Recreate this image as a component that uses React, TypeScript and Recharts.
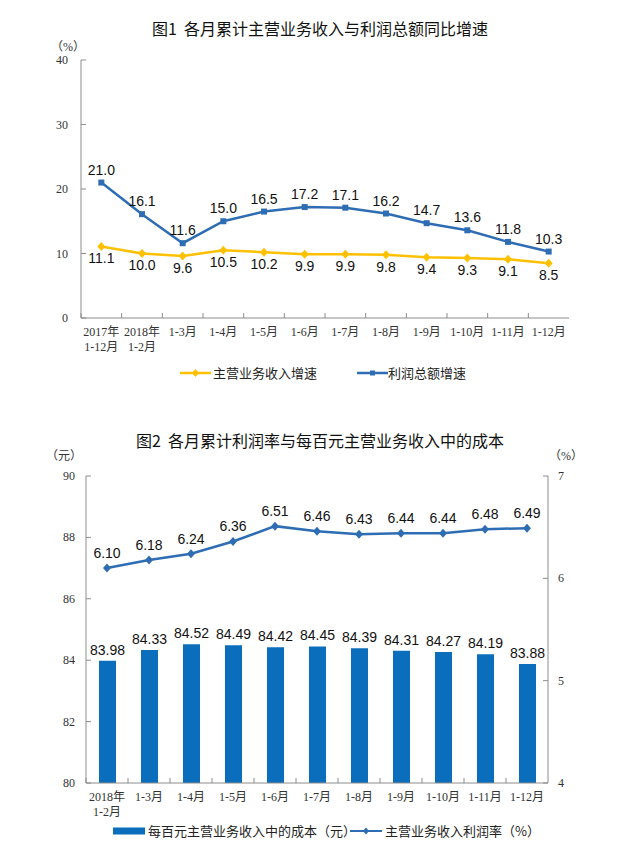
import { ComposedChart, Line, Bar, XAxis, YAxis, LabelList } from 'recharts';

// 图1 data
const months1 = ['2017年\n1-12月', '2018年\n1-2月', '1-3月', '1-4月', '1-5月', '1-6月', '1-7月', '1-8月', '1-9月', '1-10月', '1-11月', '1-12月'];
const revenueGrowth = [11.1, 10.0, 9.6, 10.5, 10.2, 9.9, 9.9, 9.8, 9.4, 9.3, 9.1, 8.5];
const profitGrowth = [21.0, 16.1, 11.6, 15.0, 16.5, 17.2, 17.1, 16.2, 14.7, 13.6, 11.8, 10.3];
const growthTicks = [0, 10, 20, 30, 40];

// 图2 data
const months2 = ['2018年\n1-2月', '1-3月', '1-4月', '1-5月', '1-6月', '1-7月', '1-8月', '1-9月', '1-10月', '1-11月', '1-12月'];
const costPer100 = [83.98, 84.33, 84.52, 84.49, 84.42, 84.45, 84.39, 84.31, 84.27, 84.19, 83.88];
const profitRate = [6.10, 6.18, 6.24, 6.36, 6.51, 6.46, 6.43, 6.44, 6.44, 6.48, 6.49];
const costTicks = [80, 82, 84, 86, 88, 90];
const rateTicks = [4, 5, 6, 7];

const data1 = months1.map((m, i) => ({ month: m, revenue: revenueGrowth[i], profit: profitGrowth[i] }));
const data2 = months2.map((m, i) => ({ month: m, cost: costPer100[i], rate: profitRate[i] }));

const BLUE = '#2E6DB4';
const GOLD = '#FFC000';
const BAR = '#0A6EBD';
const BORDER = '#8c8c8c';
const TICK_FONT = '"Liberation Serif", "Noto Sans CJK SC", serif';
const LABEL_FONT = '"Liberation Sans", Arial, sans-serif';
const CJK_FONT = '"Noto Sans CJK SC", sans-serif';

const XTick = (props: any) => {
  const { x, y, payload, band } = props;
  const lines = String(payload.value).split('\n');
  return (
    <g>
      <line x1={x - band / 2} x2={x - band / 2} y1={y} y2={y - 5} stroke={BORDER} />
      <text x={x} y={y} textAnchor="middle" fontSize={12} fill="#333" fontFamily={TICK_FONT}>
        {lines.map((l, i) => (
          <tspan key={i} x={x} dy={i === 0 ? 18 : 15}>{l}</tspan>
        ))}
      </text>
    </g>
  );
};

const YTick = (props: any) => {
  const { x, y, payload, side, gap } = props;
  const ax = side === 'left' ? x + gap : x - gap;
  const inner = side === 'left' ? ax + 5 : ax - 5;
  return (
    <g>
      <line x1={ax} x2={inner} y1={y} y2={y} stroke={BORDER} />
      <text x={x} y={y} dy={4} textAnchor={side === 'left' ? 'end' : 'start'} fontSize={12} fill="#333" fontFamily={TICK_FONT}>
        {payload.value}
      </text>
    </g>
  );
};

const SquareDot = (props: any) => {
  const { cx, cy, stroke } = props;
  if (cx == null || cy == null) return null;
  return <rect x={cx - 3} y={cy - 3} width={6} height={6} fill={stroke} />;
};

const DiamondDot = (props: any) => {
  const { cx, cy, stroke } = props;
  if (cx == null || cy == null) return null;
  return <path d={`M${cx},${cy - 4.5} L${cx + 4},${cy} L${cx},${cy + 4.5} L${cx - 4},${cy} Z`} fill={stroke} />;
};

const abs = (left: number, top: number, extra: any = {}) => ({ position: 'absolute' as const, left, top, ...extra });

export default function App() {
  const band1 = (569 - 81) / months1.length;
  const band2 = (548 - 86) / months2.length;
  return (
    <div style={{ position: 'absolute', left: 0, top: 0, width: 635, height: 852, background: '#fff', overflow: 'hidden' }}>
      {/* 图1 */}
      <div style={abs(0, 17, { width: 640, textAlign: 'center', fontSize: 16, fontFamily: CJK_FONT, color: '#111', lineHeight: '22px' })}>
        图1&nbsp;&nbsp;各月累计主营业务收入与利润总额同比增速
      </div>
      <div style={abs(51, 37, { fontSize: 12, fontFamily: TICK_FONT, color: '#333' })}>（%）</div>
      <div style={abs(0, 0)}>
        <ComposedChart width={635} height={380} data={data1} margin={{ top: 60, right: 66, left: 41, bottom: 12 }}>
          <XAxis dataKey="month" scale="band" interval={0} height={50} tickSize={0} tickMargin={0} axisLine={{ stroke: BORDER }}
            tick={(p: any) => <XTick {...p} band={band1} />} />
          <XAxis xAxisId="top" dataKey="month" scale="band" orientation="top" height={0} tick={false} tickLine={false} axisLine={{ stroke: BORDER }} />
          <YAxis domain={[0, 40]} ticks={growthTicks} width={40} tickSize={0} tickMargin={13} axisLine={{ stroke: BORDER }}
            tick={(p: any) => <YTick {...p} side="left" gap={13} />} />
          <YAxis yAxisId="r" orientation="right" domain={[0, 40]} width={0} tick={false} tickLine={false} axisLine={{ stroke: BORDER }} />
          <Line dataKey="revenue" stroke={GOLD} strokeWidth={2.5} dot={<DiamondDot />} activeDot={false} isAnimationActive={false}>
            <LabelList dataKey="revenue" position="bottom" offset={7} fontSize={14} fill="#111" fontFamily={LABEL_FONT}
              formatter={(v: any) => Number(v).toFixed(1)} />
          </Line>
          <Line dataKey="profit" stroke={BLUE} strokeWidth={2.5} dot={<SquareDot />} activeDot={false} isAnimationActive={false}>
            <LabelList dataKey="profit" position="top" offset={8} fontSize={14} fill="#111" fontFamily={LABEL_FONT}
              formatter={(v: any) => Number(v).toFixed(1)} />
          </Line>
        </ComposedChart>
      </div>
      {/* 图1 legend */}
      <svg style={abs(178, 366)} width={36} height={14}>
        <line x1={2} x2={33} y1={7} y2={7} stroke={GOLD} strokeWidth={2.5} />
        <path d="M17.5,3 L21,7 L17.5,11 L14,7 Z" fill={GOLD} />
      </svg>
      <div style={abs(213, 364, { fontSize: 13, fontFamily: CJK_FONT, color: '#222', lineHeight: '18px' })}>主营业务收入增速</div>
      <svg style={abs(355, 366)} width={36} height={14}>
        <line x1={2} x2={33} y1={7} y2={7} stroke={BLUE} strokeWidth={2.5} />
        <rect x={15} y={4.5} width={5} height={5} fill={BLUE} />
      </svg>
      <div style={abs(388, 364, { fontSize: 13, fontFamily: CJK_FONT, color: '#222', lineHeight: '18px' })}>利润总额增速</div>

      {/* 图2 */}
      <div style={abs(0, 429, { width: 640, textAlign: 'center', fontSize: 16, fontFamily: CJK_FONT, color: '#111', lineHeight: '22px' })}>
        图2&nbsp;&nbsp;各月累计利润率与每百元主营业务收入中的成本
      </div>
      <div style={abs(46, 446, { fontSize: 12, fontFamily: TICK_FONT, color: '#333' })}>（元）</div>
      <div style={abs(549, 446, { fontSize: 12, fontFamily: TICK_FONT, color: '#333' })}>（%）</div>
      <div style={abs(0, 400)}>
        <ComposedChart width={635} height={430} data={data2} margin={{ top: 76, right: 47, left: 46, bottom: 2 }}>
          <XAxis dataKey="month" interval={0} height={45} tickSize={0} tickMargin={0} axisLine={{ stroke: BORDER }}
            tick={(p: any) => <XTick {...p} band={band2} />} />
          <XAxis xAxisId="top" dataKey="month" orientation="top" height={0} tick={false} tickLine={false} axisLine={{ stroke: BORDER }} />
          <YAxis yAxisId="l" domain={[80, 90]} ticks={costTicks} width={40} tickSize={0} tickMargin={11} axisLine={{ stroke: BORDER }}
            tick={(p: any) => <YTick {...p} side="left" gap={11} />} />
          <YAxis yAxisId="r" orientation="right" domain={[4, 7]} ticks={rateTicks} width={40} tickSize={0} tickMargin={10} axisLine={{ stroke: BORDER }}
            tick={(p: any) => <YTick {...p} side="right" gap={10} />} />
          <Bar yAxisId="l" dataKey="cost" fill={BAR} barSize={17} isAnimationActive={false}>
            <LabelList dataKey="cost" position="top" offset={6} fontSize={14} fill="#111" fontFamily={LABEL_FONT}
              formatter={(v: any) => Number(v).toFixed(2)} />
          </Bar>
          <Line yAxisId="r" dataKey="rate" stroke={BLUE} strokeWidth={2.5} dot={<DiamondDot />} activeDot={false} isAnimationActive={false}>
            <LabelList dataKey="rate" position="top" offset={10} fontSize={14} fill="#111" fontFamily={LABEL_FONT}
              formatter={(v: any) => Number(v).toFixed(2)} />
          </Line>
        </ComposedChart>
      </div>
      {/* 图2 legend */}
      <svg style={abs(112, 824)} width={36} height={14}>
        <rect x={1} y={3.5} width={32} height={7} fill={BAR} />
      </svg>
      <div style={abs(148, 822, { fontSize: 13, fontFamily: CJK_FONT, color: '#222', lineHeight: '18px' })}>每百元主营业务收入中的成本（元）</div>
      <svg style={abs(348, 824)} width={36} height={14}>
        <line x1={2} x2={34} y1={7} y2={7} stroke={BLUE} strokeWidth={2} />
        <path d="M18,3.5 L21,7 L18,10.5 L15,7 Z" fill={BLUE} />
      </svg>
      <div style={abs(385, 822, { fontSize: 13, fontFamily: CJK_FONT, color: '#222', lineHeight: '18px' })}>主营业务收入利润率（%）</div>
    </div>
  );
}
